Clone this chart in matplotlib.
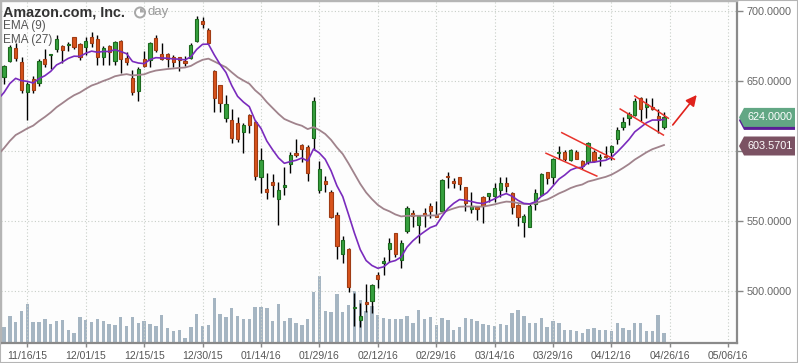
import numpy as np
import matplotlib.pyplot as plt
from matplotlib.patches import Circle, Wedge, Polygon
from matplotlib.transforms import IdentityTransform, blended_transform_factory

plt.rcParams['font.family'] = ['Liberation Sans', 'DejaVu Sans']

# daily candles, 11/10/15 .. 04/25/16
opens = [653.1, 664.3, 673.3, 663.8, 642.4, 651.2, 648.3, 665.7, 668.3, 672.6,
         675.0, 675.5, 681.2, 676.4, 674.0, 681.2, 679.8, 667.4, 675.0, 664.5,
         678.6, 666.2, 652.4, 643.1, 665.5, 665.0, 680.5, 669.3, 669.3, 666.9,
         666.9, 664.5, 666.7, 678.8, 692.9, 686.4, 657.1, 646.9, 623.3, 622.1,
         619.8, 613.8, 625.7, 621.0, 581.7, 572.6, 578.1, 565.5, 574.5, 590.7,
         598.8, 604.3, 603.1, 609.5, 572.1, 578.6, 571.0, 554.3, 526.2, 529.8,
         487.6, 479.3, 492.1, 492.9, 511.4, 520.2, 529.8, 541.2, 522.1, 543.1,
         555.5, 547.1, 555.7, 560.7, 554.3, 557.4, 582.4, 578.6, 581.2, 574.0,
         558.8, 560.2, 567.4, 567.9, 567.9, 572.4, 576.9, 569.8, 561.4, 549.5,
         546.0, 561.9, 568.6, 584.8, 581.2, 598.3, 599.0, 593.6, 599.5, 593.1,
         592.4, 599.5, 594.8, 596.7, 599.5, 608.3, 616.9, 623.3, 625.7, 637.6,
         631.2, 631.7, 625.0, 617.4]
highs = [661.4, 675.7, 676.9, 666.9, 649.5, 653.6, 665.5, 672.6, 669.5, 682.9,
         675.7, 678.1, 681.7, 676.9, 681.2, 685.0, 682.9, 675.0, 675.7, 678.8,
         679.3, 671.0, 657.9, 659.8, 671.7, 678.1, 682.9, 677.4, 670.2, 668.6,
         667.4, 668.1, 676.9, 696.4, 695.9, 687.6, 657.9, 647.1, 640.0, 629.8,
         624.0, 619.8, 626.4, 622.1, 601.9, 584.5, 583.8, 578.1, 588.8, 599.5,
         608.3, 605.0, 604.3, 638.3, 592.9, 582.1, 572.1, 556.7, 539.3, 530.5,
         498.3, 491.2, 505.0, 505.0, 513.8, 524.5, 537.6, 541.7, 536.4, 560.7,
         557.9, 554.3, 559.0, 562.6, 564.5, 579.8, 585.2, 580.5, 581.7, 574.5,
         570.9, 560.7, 567.9, 570.2, 577.4, 581.7, 581.7, 571.0, 561.9, 555.0,
         562.6, 572.6, 584.0, 585.2, 595.2, 603.6, 600.7, 601.4, 600.7, 593.6,
         606.2, 600.7, 597.9, 603.8, 604.3, 617.4, 624.5, 628.1, 638.1, 638.8,
         637.6, 637.6, 630.0, 628.1]
lows = [647.9, 663.3, 664.5, 641.2, 622.1, 641.7, 646.4, 659.8, 658.3, 671.0,
        662.6, 671.7, 672.6, 665.0, 668.6, 674.5, 661.4, 661.4, 661.4, 661.4,
        656.0, 661.4, 640.0, 636.0, 659.8, 659.8, 671.0, 665.0, 659.8, 659.8,
        657.4, 660.7, 665.5, 678.1, 687.6, 676.4, 628.1, 628.1, 621.0, 606.0,
        606.7, 598.8, 612.6, 579.3, 570.2, 565.5, 567.4, 547.4, 568.6, 584.5,
        595.5, 592.0, 578.8, 600.7, 570.2, 571.0, 551.9, 522.6, 519.8, 499.5,
        475.0, 474.5, 485.2, 484.5, 501.9, 511.4, 520.9, 524.5, 516.2, 541.2,
        546.0, 534.0, 546.0, 552.4, 552.6, 556.7, 573.8, 573.8, 572.1, 557.0,
        555.5, 551.0, 548.3, 563.8, 563.3, 567.4, 571.0, 555.0, 546.4, 538.8,
        545.5, 557.9, 567.9, 576.2, 576.4, 594.5, 593.1, 593.1, 594.0, 587.1,
        590.7, 591.9, 589.0, 594.8, 593.6, 605.2, 615.0, 618.6, 624.8, 621.7,
        623.3, 629.3, 612.6, 615.5]
closes = [660.7, 674.0, 666.7, 643.6, 647.9, 643.6, 664.3, 662.1, 669.3, 679.8,
          672.1, 676.4, 674.0, 666.9, 678.8, 677.4, 667.4, 673.3, 671.0, 677.6,
          665.7, 663.3, 641.9, 658.3, 660.7, 676.9, 672.1, 665.5, 665.5, 663.8,
          665.0, 663.1, 675.7, 694.0, 690.7, 676.9, 638.1, 634.5, 633.3, 609.0,
          608.3, 618.6, 618.6, 582.4, 593.6, 571.0, 575.7, 572.1, 575.7, 597.1,
          597.1, 601.5, 584.5, 635.7, 586.9, 576.2, 553.1, 532.4, 536.4, 503.1,
          488.8, 482.1, 490.7, 504.0, 508.3, 521.4, 534.0, 526.2, 534.5, 559.5,
          553.8, 553.8, 554.5, 556.9, 553.1, 579.3, 581.2, 577.4, 576.2, 562.6,
          560.7, 558.8, 560.7, 569.8, 573.3, 577.4, 575.2, 560.2, 553.1, 553.8,
          560.7, 569.8, 583.3, 581.0, 594.0, 599.3, 594.5, 600.7, 594.5, 589.5,
          605.7, 592.9, 596.0, 595.5, 603.6, 615.0, 620.9, 626.4, 635.7, 629.8,
          633.3, 629.8, 622.1, 624.0]
volume = [5.0, 8.4, 6.5, 9.9, 12.1, 6.5, 6.5, 7.4, 5.9, 6.8,
          7.1, 4.0, 3.1, 8.1, 7.1, 6.5, 7.4, 6.8, 5.9, 5.6,
          8.1, 5.3, 8.1, 6.2, 6.8, 5.9, 5.3, 8.7, 4.7, 3.7,
          4.0, 1.6, 5.0, 9.0, 5.3, 5.6, 14.0, 9.0, 8.1, 10.9,
          8.4, 7.4, 7.4, 11.2, 11.2, 10.9, 6.8, 12.1, 6.8, 7.8,
          6.2, 5.6, 7.4, 15.8, 20.8, 9.9, 9.6, 15.2, 9.6, 11.8,
          16.1, 13.3, 9.9, 11.5, 8.7, 7.8, 7.4, 7.4, 7.4, 8.4,
          6.2, 10.2, 7.4, 8.1, 5.6, 7.8, 7.1, 4.0, 5.0, 7.8,
          7.4, 6.8, 5.9, 5.6, 5.3, 5.9, 5.6, 9.3, 10.2, 8.4,
          6.2, 6.2, 7.8, 5.0, 6.8, 6.2, 4.0, 4.0, 3.7, 3.1,
          4.3, 4.7, 4.0, 4.0, 3.7, 6.2, 4.7, 4.0, 6.2, 6.2,
          3.7, 3.7, 8.7, 3.1]

date_ticks = [4, 14, 24, 34, 44, 54, 64, 74, 84, 94, 104, 114, 124]
date_labels = ['11/16/15', '12/01/15', '12/15/15', '12/30/15', '01/14/16', '01/29/16',
               '02/12/16', '02/29/16', '03/14/16', '03/29/16', '04/12/16', '04/26/16',
               '05/06/16']
price_ticks = [500, 550, 600, 650, 700]
# the 600 label sits under the EMA(27) tag, so it is left blank
price_labels = ['500.0000', '550.0000', '', '650.0000', '700.0000']

# EMA values just before the first visible day
ema9_start = 637.0
ema27_start = 597.5

last_price = 624.0
ema27_last = 603.5701

# hand drawn flag lines (index, price) and the arrow
flag_lines = [((92.8, 598.4), (101.5, 582.1)),
              ((95.5, 613.1), (104.5, 594.1)),
              ((105.5, 630.0), (112.9, 611.4)),
              ((108.0, 639.3), (113.75, 623.4))]
arrow_from = (114.5, 618.6)
arrow_to = (118.6, 640.0)

opens = np.array(opens)
closes = np.array(closes)
x = np.arange(len(closes))


def ema(values, span, start):
    k = 2 / (span + 1)
    out = [start]
    for v in values:
        out.append(out[-1] + k * (v - out[-1]))
    return np.array(out)


ema9 = ema(closes, 9, ema9_start)
ema27 = ema(closes, 27, ema27_start)
x_ema = np.arange(-1, len(closes))

fig = plt.figure(figsize=(7.98, 3.63), dpi=100)
rect = [1 / 798, 20 / 363, 736 / 798, 342 / 363]
ax_vol = fig.add_axes(rect)
ax = fig.add_axes(rect, sharex=ax_vol)
ax.patch.set_visible(False)
ax_vol.set_facecolor('#fdfdfd')

# volume
ax_vol.bar(x, volume, width=0.58, color='#a5b5c2')
ax_vol.set_ylim(0, 106)
ax_vol.tick_params(left=False, labelleft=False, bottom=False, labelbottom=False)
for s in ax_vol.spines.values():
    s.set_visible(False)

# candles
up = closes >= opens
ax.vlines(x, lows, highs, color='black', lw=1, zorder=2)
body = np.maximum(np.abs(closes - opens), 0.7)
bottom = np.minimum(opens, closes)
ax.bar(x[up], body[up], bottom=bottom[up], width=0.55, color='#36a03e',
       edgecolor='#1d6a1f', linewidth=0.8, zorder=3)
ax.bar(x[~up], body[~up], bottom=bottom[~up], width=0.55, color='#d8531c',
       edgecolor='#a03c14', linewidth=0.8, zorder=3)

ax.plot(x_ema, ema27, color='#a0838c', lw=1.3, zorder=4)
ax.plot(x_ema, ema9, color='#7a2bbd', lw=1.2, zorder=4)

for (x0, y0), (x1, y1) in flag_lines:
    ax.plot([x0, x1], [y0, y1], color='#e8332c', lw=1.1, zorder=5)
ax.annotate('', xy=arrow_to, xytext=arrow_from,
            arrowprops=dict(arrowstyle='-|>', color='#e0221c', lw=1.2,
                            mutation_scale=16, shrinkA=0, shrinkB=0), zorder=5)

ax.set_xlim(-0.51, 125.5)
ax.set_ylim(462.86, 707.14)
ax.yaxis.tick_right()
ax.set_yticks(price_ticks)
ax.set_yticklabels(price_labels)
ax.set_xticks(date_ticks)
ax.set_xticklabels(date_labels)
ax.tick_params(axis='y', length=4, width=1, color='#888888', labelsize=7.8,
               labelcolor='#666666', pad=3)
ax.tick_params(axis='x', length=3, width=1, color='#888888', labelsize=7.5,
               labelcolor='#555555', pad=3)
ax.grid(True, color='#c8cfc8', linestyle=(0, (1, 2)), lw=0.8)
ax.set_axisbelow(True)
for side in ['right', 'bottom']:
    ax.spines[side].set_color('#8a8a8a')
    ax.spines[side].set_linewidth(1.6)
for side in ['left', 'top']:
    ax.spines[side].set_color('#b5b5b5')
    ax.spines[side].set_linewidth(1)

# price labels on the right axis
tr = blended_transform_factory(ax.transAxes, ax.transData)
px = 1 / 736
half = 9.5 / 1.4


def tag(value, text, color):
    pts = [(1 + 2 * px, value), (1 + 7 * px, value + half), (1 + 58 * px, value + half),
           (1 + 58 * px, value - half), (1 + 7 * px, value - half)]
    ax.add_patch(Polygon(pts, closed=True, facecolor=color, edgecolor='none',
                         transform=tr, clip_on=False, zorder=6))
    if text:
        ax.text(1 + 33 * px, value, text, transform=tr, ha='center', va='center',
                color='white', fontsize=7.8, clip_on=False, zorder=7)


tag(last_price - 3 / 1.4, '', '#5a1f96')
tag(last_price, '%.4f' % last_price, '#62a784')
tag(ema27_last, '%.4f' % ema27_last, '#7b5263')

# header texts
fig.text(3 / 798, 1 - 12.5 / 363, 'Amazon.com, Inc.', fontsize=10.4,
         fontweight='bold', color='#333333', va='center', ha='left')
fig.text(148 / 798, 1 - 12.5 / 363, 'day', fontsize=9.5, color='#9a9a9a',
         va='center', ha='left')
fig.text(3 / 798, 1 - 25.5 / 363, 'EMA (9)', fontsize=8.5, color='#555555',
         va='center', ha='left')
fig.text(3 / 798, 1 - 40 / 363, 'EMA (27)', fontsize=8.5, color='#555555',
         va='center', ha='left')
cx, cy = 140, 363 - 12.5
fig.add_artist(Circle((cx, cy), 6, facecolor='#a8a8a8', edgecolor='none',
                      transform=IdentityTransform()))
fig.add_artist(Circle((cx, cy), 4, facecolor='white', edgecolor='none',
                      transform=IdentityTransform()))
fig.add_artist(Wedge((cx, cy), 4, 0, 90, facecolor='#a8a8a8', edgecolor='none',
                     transform=IdentityTransform()))

fig.add_artist(plt.Rectangle((0, 0), 1, 1, transform=fig.transFigure, fill=False,
                             edgecolor='#b5b5b5', lw=1.5))

fig.savefig('out.png', dpi=100)
